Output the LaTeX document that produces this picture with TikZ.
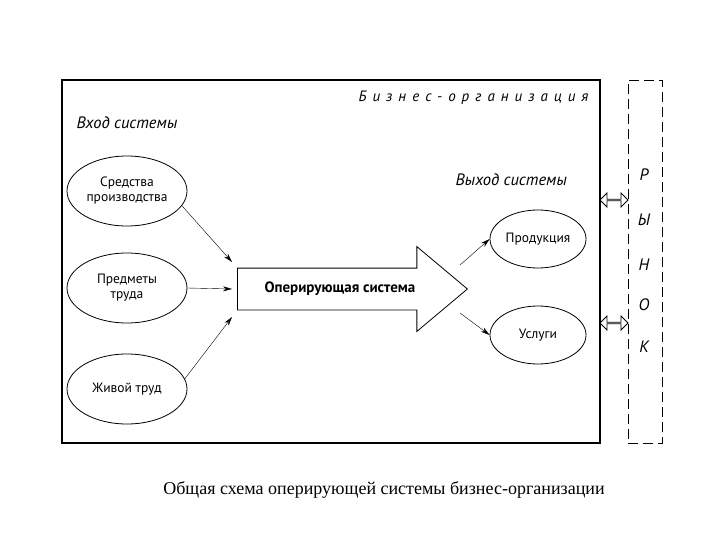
\documentclass[tikz,border=0pt]{standalone}
\usepackage{fontspec}
\setmainfont{PT Sans}
\newfontfamily\capfont{Liberation Serif}
\newfontfamily\spacedfont[LetterSpace=40]{PT Sans}
\usetikzlibrary{shapes.geometric, shapes.arrows, arrows.meta}

\begin{document}
\begin{tikzpicture}[x=1pt, y=-1pt,
    resource/.style={ellipse, draw, thick, minimum width=120pt, minimum height=70pt, inner sep=0pt, align=center, font=\fontsize{13.5}{15}\selectfont},
    result/.style={ellipse, draw, thick, minimum width=96pt, minimum height=58pt, inner sep=0pt, font=\fontsize{13.5}{15}\selectfont},
    heading/.style={font=\fontsize{16.5}{18}\selectfont\itshape},
    arrow/.style={-{Stealth[length=9pt, width=5pt]}},
    exchange/.style={double arrow, draw, thick, minimum height=28pt, minimum width=14pt, inner sep=0pt, double arrow head extend=3.5pt}
]
\useasboundingbox (0,0) rectangle (720,540);

\node[draw, line width=1.6pt, minimum width=538pt, minimum height=363pt, inner sep=0pt] (org) at (331,261.5) {};
\node[draw, thick, dashed, dash pattern=on 10pt off 5pt, minimum width=34pt, minimum height=363pt, inner sep=0pt] (market) at (645,261.5) {};

\node[anchor=east, font=\fontsize{15}{17}\selectfont\spacedfont\itshape] (orgname) at (592,98) {Бизнес-организация};
\node[heading, anchor=west] (inhead) at (73,123) {Вход системы};
\node[heading, anchor=west] (outhead) at (452,180) {Выход системы};

\node[resource] (means) at (127,191) {Средства\\производства};
\node[resource] (objects) at (127,288) {Предметы\\труда};
\node[resource] (labour) at (127,389) {Живой труд};

\node[single arrow, draw, thick, anchor=tail, minimum height=230pt, minimum width=84pt, inner xsep=4pt,
      text height=10pt, text depth=3pt, inner ysep=14pt,
      single arrow head extend=21.5pt, single arrow tip angle=80, single arrow head indent=0pt,
      font=\fontsize{15}{17}\selectfont\bfseries] (opsys) at (237,289) {Оперирующая система};

\node[result] (goods) at (538,239) {Продукция};
\node[result] (services) at (538,335) {Услуги};

\coordinate (in1) at (232,262);
\coordinate (in2) at (232,289);
\coordinate (in3) at (232,317);
\coordinate (out1) at (460,265);
\coordinate (out2) at (460,313);

\draw[arrow] (means.-15) -- (in1);
\draw[arrow] (objects.east) -- (in2);
\draw[arrow] (labour.10) -- (in3);
\draw[arrow] (out1) -- (goods.west);
\draw[arrow] (out2) -- (services.west);

\node[exchange] (link1) at (614,200) {};
\node[exchange] (link2) at (614,323) {};

\foreach \l/\y in {Р/175, Ы/220, Н/265, О/305, К/347}
    \node[heading] (letter\y) at (644,\y) {\l};

\node[font=\fontsize{18}{20}\selectfont\capfont] (caption) at (384,490) {Общая схема оперирующей системы бизнес-организации};
\end{tikzpicture}
\end{document}
